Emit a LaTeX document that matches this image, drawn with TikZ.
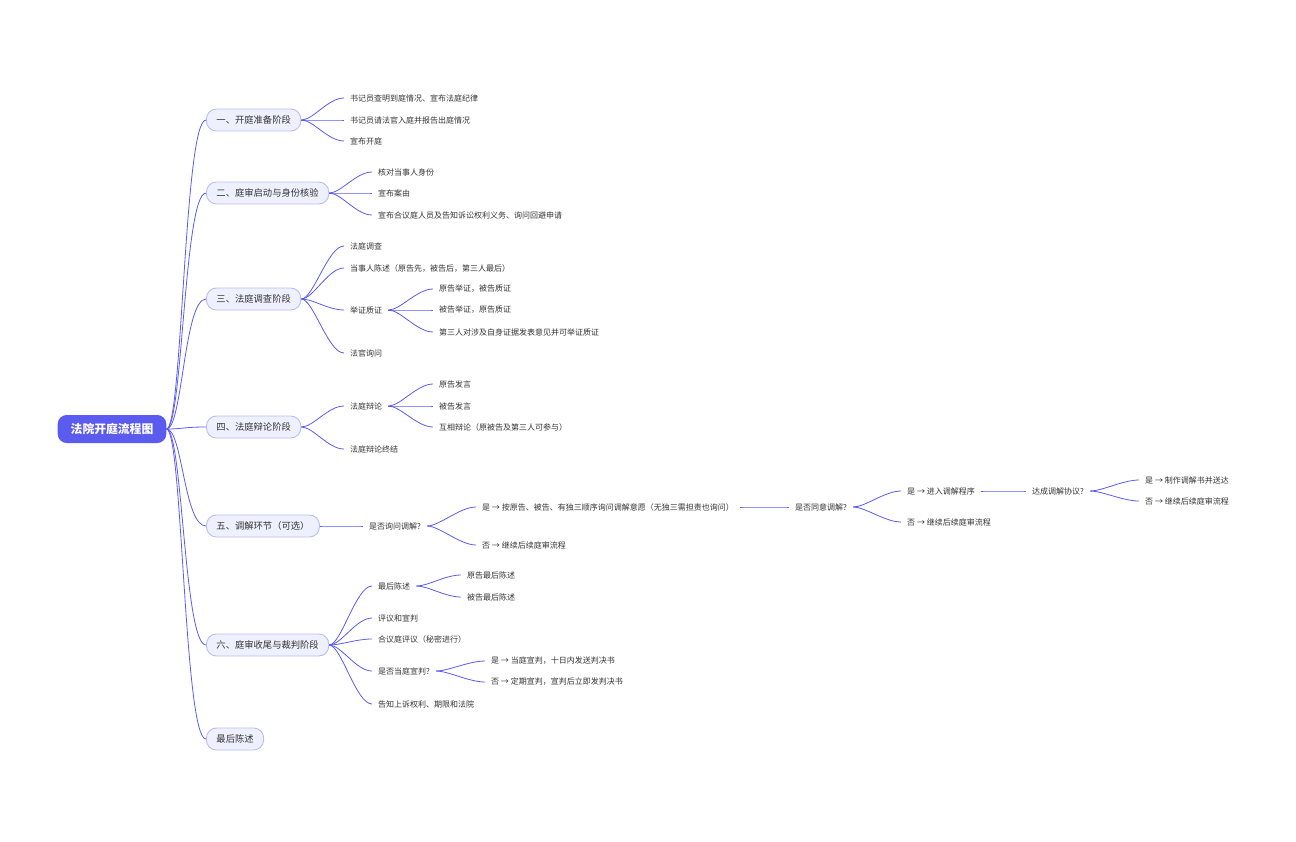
\documentclass[tikz,border=0pt]{standalone}
\usepackage{fontspec}
\setmainfont{Noto Sans CJK SC}
\usetikzlibrary{positioning}
\definecolor{edgec}{HTML}{5B5BF0}
\definecolor{stagefill}{HTML}{EEF0FE}
\definecolor{stageline}{HTML}{B9BDF6}
\definecolor{txt}{HTML}{333333}

\begin{document}
\begin{tikzpicture}[x=1pt, y=-1pt,
    root/.style={rectangle, rounded corners=9pt, fill=edgec, text=white, font=\fontsize{11.8}{13}\selectfont\bfseries, minimum height=28pt, inner xsep=13pt},
    stage/.style={rectangle, rounded corners=10pt, fill=stagefill, draw=stageline, line width=0.9pt, text=txt, font=\fontsize{9.3}{11}\selectfont, minimum height=22pt, inner xsep=10pt, anchor=west},
    leaf/.style={text=txt, font=\fontsize{8}{9}\selectfont, inner xsep=6pt, inner ysep=2pt, anchor=west},
    link/.style={draw=edgec, line width=0.8pt}]
    \useasboundingbox (0,0) rectangle (1296,841);
    \node[root] (court) at (112,429) {法院开庭流程图};

    \node[stage] (s1) at (206,120) {一、开庭准备阶段};
    \node[stage] (s2) at (206,193) {二、庭审启动与身份核验};
    \node[stage] (s3) at (206,299) {三、法庭调查阶段};
    \node[stage] (s4) at (206,427) {四、法庭辩论阶段};
    \node[stage] (s5) at (206,526) {五、调解环节（可选）};
    \node[stage] (s6) at (206,645) {六、庭审收尾与裁判阶段};
    \node[stage] (s7) at (206,739) {最后陈述};
    \foreach \s in {s1,s2,s3,s4,s5,s6,s7}
        \draw[link] (court.east) .. controls +(16,0) and +(-22,0) .. (\s.west);

    % stage one
    \node[leaf] (a1) at (344,98) {书记员查明到庭情况、宣布法庭纪律};
    \node[leaf] (a2) at (344,120) {书记员请法官入庭并报告出庭情况};
    \node[leaf] (a3) at (344,141) {宣布开庭};
    % stage two
    \node[leaf] (b1) at (372,172) {核对当事人身份};
    \node[leaf] (b2) at (372,193) {宣布案由};
    \node[leaf] (b3) at (372,215) {宣布合议庭人员及告知诉讼权利义务、询问回避申请};
    % stage three
    \node[leaf] (c1) at (344,246) {法庭调查};
    \node[leaf] (c2) at (344,268) {当事人陈述（原告先，被告后，第三人最后）};
    \node[leaf] (c3) at (344,310) {举证质证};
    \node[leaf] (c4) at (344,353) {法官询问};
    \node[leaf] (c31) at (433,289) {原告举证，被告质证};
    \node[leaf] (c32) at (433,310) {被告举证，原告质证};
    \node[leaf] (c33) at (433,332) {第三人对涉及自身证据发表意见并可举证质证};
    % stage four
    \node[leaf] (d1) at (344,406) {法庭辩论};
    \node[leaf] (d2) at (344,449) {法庭辩论终结};
    \node[leaf] (d11) at (433,384) {原告发言};
    \node[leaf] (d12) at (433,406) {被告发言};
    \node[leaf] (d13) at (433,427) {互相辩论（原被告及第三人可参与）};
    % stage five
    \node[leaf] (e1) at (363,526) {是否询问调解?};
    \node[leaf] (e11) at (476,507) {是 → 按原告、被告、有独三顺序询问调解意愿（无独三需担责也询问）};
    \node[leaf] (e12) at (476,545) {否 → 继续后续庭审流程};
    \node[leaf] (e2) at (789,507) {是否同意调解?};
    \node[leaf] (e21) at (901,491) {是 → 进入调解程序};
    \node[leaf] (e22) at (901,522) {否 → 继续后续庭审流程};
    \node[leaf] (e3) at (1026,491) {达成调解协议?};
    \node[leaf] (e31) at (1139,480) {是 → 制作调解书并送达};
    \node[leaf] (e32) at (1139,501) {否 → 继续后续庭审流程};
    % stage six
    \node[leaf] (f1) at (372,586) {最后陈述};
    \node[leaf] (f2) at (372,618) {评议和宣判};
    \node[leaf] (f3) at (372,639) {合议庭评议（秘密进行）};
    \node[leaf] (f4) at (372,671) {是否当庭宣判?};
    \node[leaf] (f5) at (372,704) {告知上诉权利、期限和法院};
    \node[leaf] (f11) at (461,575) {原告最后陈述};
    \node[leaf] (f12) at (461,597) {被告最后陈述};
    \node[leaf] (f41) at (485,661) {是 → 当庭宣判，十日内发送判决书};
    \node[leaf] (f42) at (485,682) {否 → 定期宣判，宣判后立即发判决书};

    \foreach \p/\c in {s1/a1,s1/a2,s1/a3,s2/b1,s2/b2,s2/b3,s3/c1,s3/c2,s3/c3,s3/c4,
        c3/c31,c3/c32,c3/c33,s4/d1,s4/d2,d1/d11,d1/d12,d1/d13,s5/e1,e1/e11,e1/e12,
        e11/e2,e2/e21,e2/e22,e21/e3,e3/e31,e3/e32,s6/f1,s6/f2,s6/f3,s6/f4,s6/f5,
        f1/f11,f1/f12,f4/f41,f4/f42}
        \draw[link] (\p.east) .. controls +(12,0) and +(-16,0) .. (\c.west);
\end{tikzpicture}
\end{document}
